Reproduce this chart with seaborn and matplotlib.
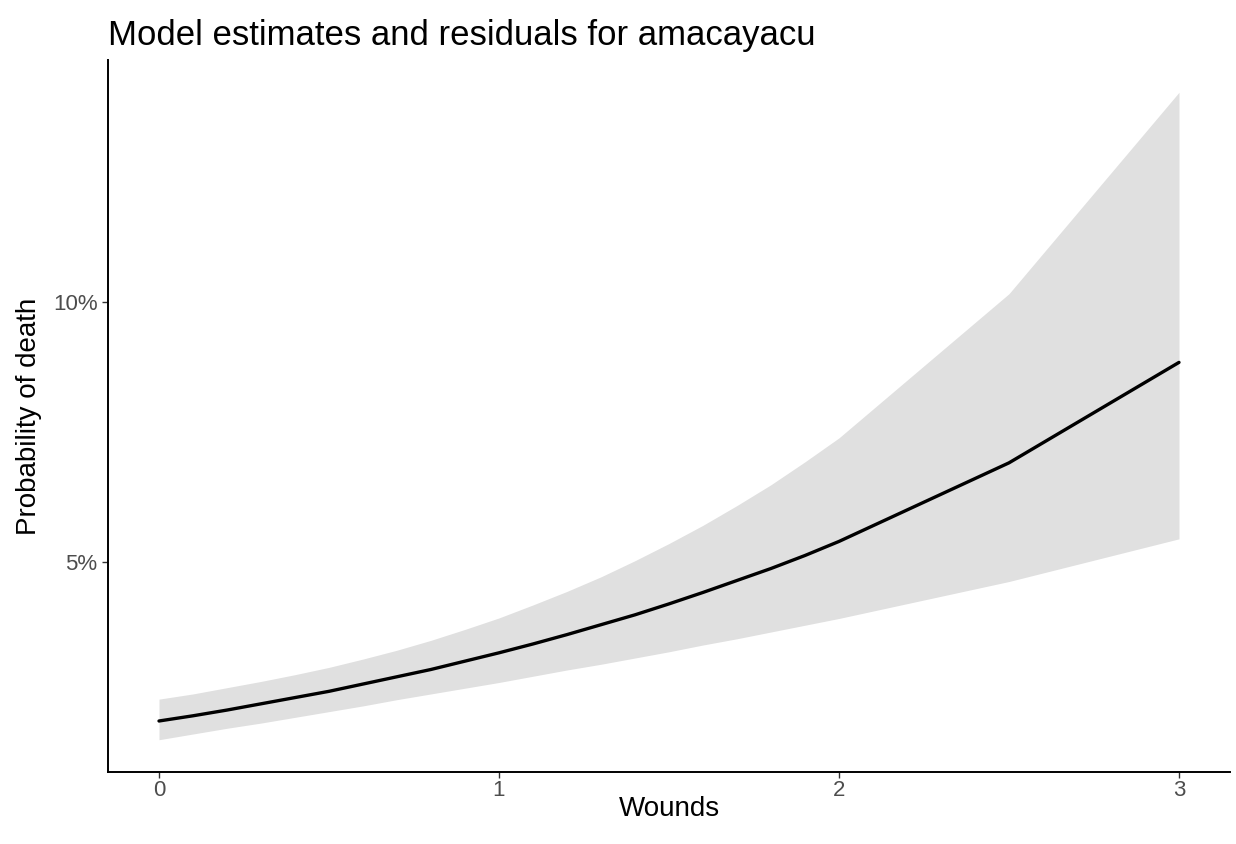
import matplotlib
matplotlib.use("Agg")
import matplotlib.pyplot as plt
import seaborn as sns
import pandas as pd

# Data, probabilities in percent
wounds = [0.0, 0.1, 0.2, 0.3, 0.4, 0.5, 0.6, 0.7, 0.8, 0.9, 1.0,
          1.1, 1.2, 1.3, 1.4, 1.5, 1.6, 1.7, 1.8, 1.9, 2.0, 2.5, 3.0]
estimate = [1.95, 2.05, 2.16, 2.28, 2.40, 2.52, 2.66, 2.80, 2.94, 3.10, 3.26,
            3.43, 3.61, 3.80, 3.99, 4.20, 4.42, 4.65, 4.88, 5.13, 5.40, 6.91, 8.84]
upper = [2.37, 2.47, 2.59, 2.71, 2.84, 2.98, 3.14, 3.31, 3.50, 3.71, 3.93,
         4.18, 4.44, 4.72, 5.03, 5.36, 5.71, 6.09, 6.49, 6.93, 7.39, 10.16, 14.03]
lower = [1.59, 1.70, 1.81, 1.91, 2.02, 2.13, 2.24, 2.36, 2.47, 2.58, 2.69,
         2.81, 2.93, 3.04, 3.16, 3.28, 3.41, 3.53, 3.66, 3.79, 3.92, 4.63, 5.45]

y_ticks = [5, 10]
title = "Model estimates and residuals for amacayacu"
x_label = "Wounds"
y_label = "Probability of death"

df = pd.DataFrame({"wounds": wounds, "estimate": estimate,
                   "upper": upper, "lower": lower})

sns.set_theme(style="white")
plt.rcParams["font.family"] = ["Liberation Sans", "DejaVu Sans"]

fig = plt.figure(figsize=(12.36, 8.44), dpi=100)
ax = fig.add_axes([108 / 1236, 1 - 772 / 844, (1230 - 108) / 1236, (772 - 60) / 844])

ax.fill_between(df["wounds"], df["lower"], df["upper"], color="#E0E0E0", linewidth=0)
sns.lineplot(data=df, x="wounds", y="estimate", ax=ax, color="black", linewidth=2.4)

ax.set_xlim(-0.15, 3.15)
ax.set_ylim(0.97, 14.65)
ax.set_xticks([0, 1, 2, 3])
ax.set_xticklabels(["0", "1", "2", "3"])
ax.set_yticks(y_ticks)
ax.set_yticklabels([f"{v}%" for v in y_ticks])

for s in ["top", "right"]:
    ax.spines[s].set_visible(False)
for s in ["left", "bottom"]:
    ax.spines[s].set_color("black")
    ax.spines[s].set_linewidth(1.4)

ax.tick_params(axis="both", which="major", length=4.5, width=1.0, color="#333333",
               labelsize=16, labelcolor="#4D4D4D", left=True, bottom=True)
ax.tick_params(axis="x", pad=1.5)
ax.tick_params(axis="y", pad=3)

ax.set_xlabel(x_label, fontsize=20, color="black", labelpad=-4)
ax.set_ylabel(y_label, fontsize=20, color="black", labelpad=8)

fig.text(108 / 1236, 1 - 45 / 844, title, fontsize=25, color="black",
         ha="left", va="baseline")

fig.savefig("out.png", dpi=100, facecolor="white")
